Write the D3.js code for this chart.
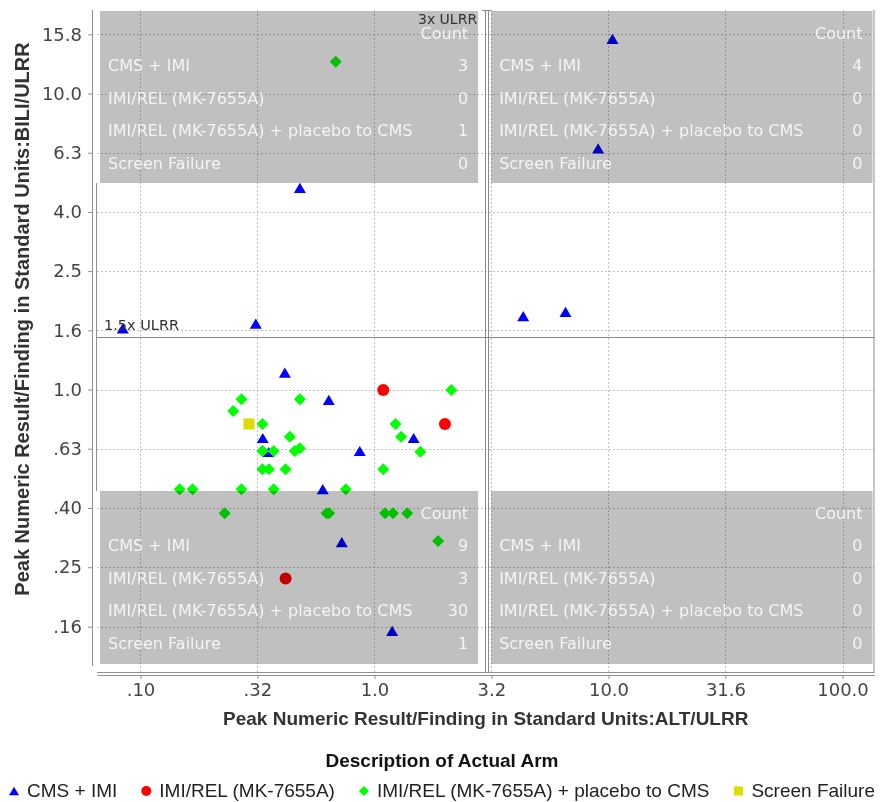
<!DOCTYPE html>
<html>
<head>
<meta charset="utf-8">
<script src="https://cdn.jsdelivr.net/npm/d3@7/dist/d3.min.js"></script>
<style>
  body { margin: 0; background: #fff; }
  svg { display: block; }
</style>
</head>
<body>
<div id="chart"></div>
<script>
// arms (series)
const arms = ["CMS + IMI", "IMI/REL (MK-7655A)", "IMI/REL (MK-7655A) + placebo to CMS", "Screen Failure"];
const armColors = ["#0000ff", "#ff0000", "#00ff00", "#dddd00"];
const armShapes = ["triangle", "circle", "diamond", "square"];

// peak ALT/ULRR and BILI/ULRR per subject, one pair of arrays per arm
const cmsImiALT  = [0.48, 0.311, 0.084, 10.4, 9.03, 4.32, 6.55, 0.414, 0.638, 0.333, 0.353, 0.865, 1.47, 0.601, 0.725, 1.19];
const cmsImiBILI = [4.8, 1.67, 1.61, 15.3, 6.53, 1.77, 1.83, 1.14, 0.922, 0.686, 0.615, 0.620, 0.686, 0.461, 0.305, 0.153];

const imiRelALT  = [1.09, 2.0, 0.417];
const imiRelBILI = [0.996, 0.765, 0.230];

const placeboALT  = [0.683, 0.249, 0.270, 0.480, 0.332, 0.435, 0.332, 0.371, 0.456, 0.480, 0.332, 0.354, 0.417, 1.09, 1.23, 1.30,
                     1.57, 2.13, 0.147, 0.167, 0.270, 0.371, 0.754, 0.229, 0.624, 0.640, 1.11, 1.20, 1.38, 1.87, 0.332];
const placeboBILI = [12.8, 0.846, 0.927, 0.927, 0.765, 0.693, 0.620, 0.620, 0.620, 0.633, 0.538, 0.538, 0.538, 0.538, 0.765, 0.693,
                     0.616, 0.996, 0.460, 0.460, 0.460, 0.460, 0.460, 0.382, 0.382, 0.382, 0.382, 0.382, 0.382, 0.308, 0.620];

const screenALT  = [0.291];
const screenBILI = [0.765];

// reference limits (x ULRR)
const altRef = 3;
const biliRef = 1.5;

// axes
const xDomain = [0.0652, 137];
const yDomain = [0.1111, 19.15];
const xTickValues = [0.1, 0.316, 1, 3.16, 10, 31.6, 100];
const xTickLabels = [".10", ".32", "1.0", "3.2", "10.0", "31.6", "100.0"];
const yTickValues = [0.158, 0.251, 0.398, 0.631, 1.0, 1.585, 2.512, 3.981, 6.31, 10, 15.85];
const yTickLabels = [".16", ".25", ".40", ".63", "1.0", "1.6", "2.5", "4.0", "6.3", "10.0", "15.8"];

const xTitle = "Peak Numeric Result/Finding in Standard Units:ALT/ULRR";
const yTitle = "Peak Numeric Result/Finding in Standard Units:BILI/ULRR";
const legendTitle = "Description of Actual Arm";

// build point list
const seriesALT = [cmsImiALT, imiRelALT, placeboALT, screenALT];
const seriesBILI = [cmsImiBILI, imiRelBILI, placeboBILI, screenBILI];
const points = [];
seriesALT.forEach((alts, s) => {
    alts.forEach((a, i) => points.push({ arm: s, alt: a, bili: seriesBILI[s][i] }));
});

const width = 884, height = 802;
const plot = { left: 97, right: 874.5, top: 10, bottom: 672 };

const svg = d3.select("#chart").append("svg")
    .attr("width", width)
    .attr("height", height)
    .style("font-family", "'DejaVu Sans', sans-serif");

const x = d3.scaleLog().domain(xDomain).range([plot.left, plot.right]);
const y = d3.scaleLog().domain(yDomain).range([plot.bottom, plot.top]);

function shapePath(shape, s) {
    if (shape === "triangle") return `M0,${-s * 0.85}L${s},${s * 0.85}L${-s},${s * 0.85}Z`;
    if (shape === "diamond") return `M0,${-s}L${s},0L0,${s}L${-s},0Z`;
    if (shape === "square") return `M${-s * 0.92},${-s * 0.92}H${s * 0.92}V${s * 0.92}H${-s * 0.92}Z`;
    return d3.arc()({ innerRadius: 0, outerRadius: s, startAngle: 0, endAngle: 2 * Math.PI });
}

// grid
const grid = svg.append("g").attr("stroke", "#c2c2c2").attr("stroke-dasharray", "2,2");
grid.selectAll("line.gx").data(xTickValues).enter().append("line")
    .attr("x1", d => Math.round(x(d)) + 0.5).attr("x2", d => Math.round(x(d)) + 0.5)
    .attr("y1", plot.top).attr("y2", plot.bottom);
grid.selectAll("line.gy").data(yTickValues).enter().append("line")
    .attr("y1", d => Math.round(y(d)) + 0.5).attr("y2", d => Math.round(y(d)) + 0.5)
    .attr("x1", plot.left).attr("x2", plot.right);

// boxes (quadrant tables)
const refX = x(altRef), refY = y(biliRef);
const boxes = [
    { top: true,  right: false, x0: plot.left + 3, x1: refX - 8, y0: plot.top + 1, y1: plot.top + 173 },
    { top: true,  right: true,  x0: refX + 5, x1: plot.right - 2, y0: plot.top + 1, y1: plot.top + 173 },
    { top: false, right: false, x0: plot.left + 3, x1: refX - 8, y0: plot.bottom - 181, y1: plot.bottom - 8 },
    { top: false, right: true,  x0: refX + 5, x1: plot.right - 2, y0: plot.bottom - 181, y1: plot.bottom - 8 }
];
boxes.forEach(b => {
    b.counts = arms.map((a, s) => points.filter(p => p.arm === s &&
        (p.alt >= altRef) === b.right && (p.bili >= biliRef) === b.top).length);
});

// frame lines
const frame = svg.append("g").attr("stroke", "#8f8f8f").attr("fill", "none");
frame.append("line").attr("x1", plot.left - 0.5).attr("x2", plot.left - 0.5)
    .attr("y1", boxes[0].y1).attr("y2", boxes[2].y0);
frame.append("line").attr("x1", plot.right - 0.5).attr("x2", plot.right - 0.5)
    .attr("y1", plot.top).attr("y2", plot.bottom);
frame.append("line").attr("x1", plot.left).attr("x2", plot.right)
    .attr("y1", plot.bottom + 0.5).attr("y2", plot.bottom + 0.5);

// reference lines
const refs = svg.append("g").attr("stroke", "#8a8a8a").attr("fill", "none");
[-1.5, 1.5].forEach(o => {
    refs.append("line").attr("x1", Math.round(refX + o) + 0.5).attr("x2", Math.round(refX + o) + 0.5)
        .attr("y1", plot.top).attr("y2", plot.bottom);
});
refs.append("line").attr("x1", Math.round(refX) - 4).attr("x2", Math.round(refX) + 5)
    .attr("y1", plot.top + 0.5).attr("y2", plot.top + 0.5);
refs.append("line").attr("x1", plot.left).attr("x2", plot.right)
    .attr("y1", Math.round(refY) + 0.5).attr("y2", Math.round(refY) + 0.5);

// points
svg.append("g").selectAll("path.pt").data(points).enter().append("path")
    .attr("class", "pt")
    .attr("transform", d => `translate(${x(d.alt)},${y(d.bili)})`)
    .attr("d", d => shapePath(armShapes[d.arm], 6))
    .attr("fill", d => armColors[d.arm]);

// grey tables drawn over the points
svg.append("g").selectAll("rect").data(boxes).enter().append("rect")
    .attr("x", b => b.x0).attr("y", b => b.y0)
    .attr("width", b => b.x1 - b.x0).attr("height", b => b.y1 - b.y0)
    .attr("fill", "#c0c0c0")
    .style("mix-blend-mode", "multiply");

const rowOffsets = [28, 60, 92.5, 125, 157.5];
boxes.forEach(b => {
    const g = svg.append("g").attr("fill", "#f4f4f4").style("font-size", "16px");
    g.append("text").attr("x", b.x1 - 10).attr("y", b.y0 + rowOffsets[0])
        .attr("text-anchor", "end").text("Count");
    arms.forEach((a, i) => {
        g.append("text").attr("x", b.x0 + 8).attr("y", b.y0 + rowOffsets[i + 1]).text(a);
        g.append("text").attr("x", b.x1 - 10).attr("y", b.y0 + rowOffsets[i + 1])
            .attr("text-anchor", "end").text(b.counts[i]);
    });
});

// reference labels
svg.append("text").attr("x", refX - 9).attr("y", plot.top + 14)
    .attr("text-anchor", "end").attr("fill", "#333").style("font-size", "14px")
    .text("3x ULRR");
svg.append("text").attr("x", plot.left + 7).attr("y", refY - 7.5)
    .attr("fill", "#333").style("font-size", "14.5px")
    .text("1.5x ULRR");

// axes
const xAxis = svg.append("g")
    .attr("transform", `translate(0,${plot.bottom + 3})`)
    .call(d3.axisBottom(x).tickValues(xTickValues).tickFormat((d, i) => xTickLabels[i])
        .tickSize(4).tickSizeOuter(0).tickPadding(4));
const yAxis = svg.append("g")
    .attr("transform", `translate(${plot.left - 5},0)`)
    .call(d3.axisLeft(y).tickValues(yTickValues).tickFormat((d, i) => yTickLabels[i])
        .tickSize(4).tickSizeOuter(0).tickPadding(6));
[xAxis, yAxis].forEach(a => {
    a.select(".domain").attr("stroke", "#8f8f8f");
    a.selectAll(".tick line").attr("stroke", "#8f8f8f");
    a.selectAll(".tick text").attr("fill", "#444")
        .style("font-family", "'DejaVu Sans', sans-serif").style("font-size", "18px");
});
yAxis.select(".domain").attr("d", `M0.5,${plot.top}V${plot.bottom - 6}`);

// axis titles
svg.append("text")
    .attr("x", (plot.left + plot.right) / 2).attr("y", 725)
    .attr("text-anchor", "middle")
    .style("font-family", "'Liberation Sans', Arial, sans-serif")
    .style("font-size", "19px").style("font-weight", "bold").attr("fill", "#333")
    .text(xTitle);
svg.append("text")
    .attr("transform", "translate(29,319) rotate(-90)")
    .attr("text-anchor", "middle")
    .style("font-family", "'Liberation Sans', Arial, sans-serif")
    .style("font-size", "20px").style("font-weight", "bold").attr("fill", "#333")
    .text(yTitle);

// legend
svg.append("text")
    .attr("x", width / 2).attr("y", 767)
    .attr("text-anchor", "middle")
    .style("font-family", "'Liberation Sans', Arial, sans-serif")
    .style("font-size", "19px").style("font-weight", "bold").attr("fill", "#111")
    .text(legendTitle);

const legend = svg.append("g")
    .style("font-family", "'Liberation Sans', Arial, sans-serif")
    .style("font-size", "19px");
const items = arms.map((a, i) => {
    const g = legend.append("g");
    g.append("path").attr("d", shapePath(armShapes[i], 5)).attr("fill", armColors[i])
        .attr("transform", "translate(5,-6)");
    const t = g.append("text").attr("x", 18).attr("y", 0).attr("fill", "#222").text(a);
    return { g, w: 18 + t.node().getComputedTextLength() };
});
const gap = 24;
const total = d3.sum(items, d => d.w) + gap * (items.length - 1);
let lx = width / 2 - total / 2;
items.forEach(it => {
    it.g.attr("transform", `translate(${lx},797)`);
    lx += it.w + gap;
});
</script>
</body>
</html>
